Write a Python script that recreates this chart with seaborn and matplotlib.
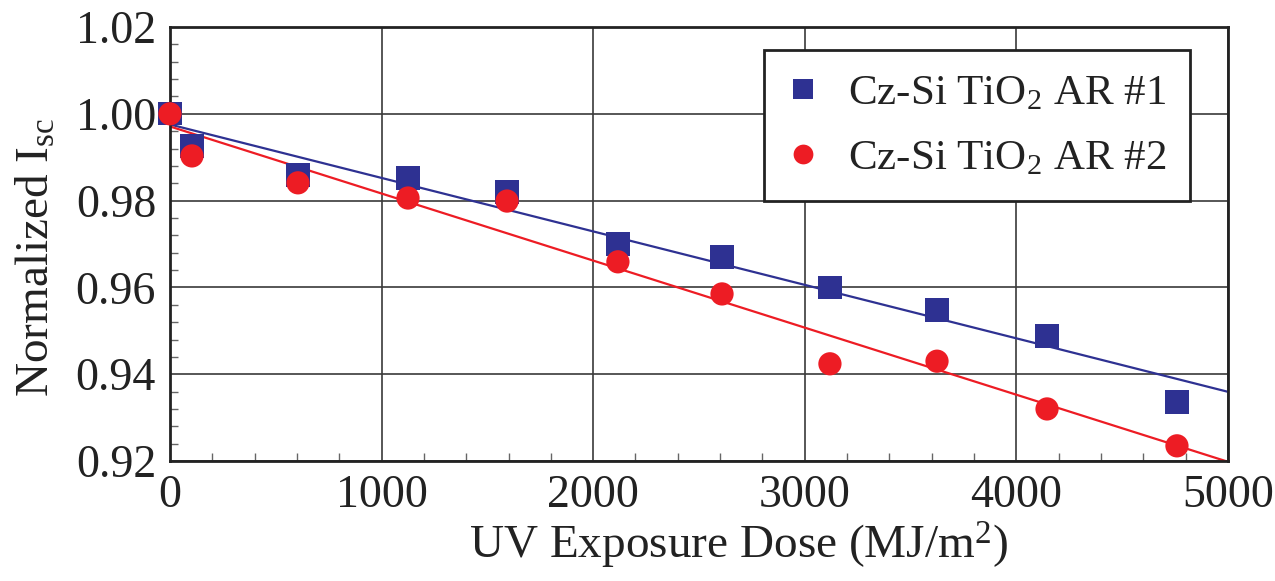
"""
Normalized Isc versus UV exposure dose for two Cz-Si TiO2 AR cells
"""

import numpy as np
import pandas as pd
import matplotlib
matplotlib.use('Agg')
import matplotlib.pyplot as plt
from matplotlib.ticker import MultipleLocator
import seaborn as sns

dose = [0, 104, 605, 1125, 1593, 2117, 2609, 3119, 3625, 4145, 4759]
isc_ar1 = [1.000, 0.9926, 0.9859, 0.9852, 0.9820, 0.9700, 0.9670,
           0.9599, 0.9548, 0.9488, 0.9336]
isc_ar2 = [1.000, 0.9903, 0.9841, 0.9806, 0.9799, 0.9659, 0.9585,
           0.9424, 0.9430, 0.9320, 0.9235]
series_names = ['Cz-Si TiO$_2$ AR #1', 'Cz-Si TiO$_2$ AR #2']
series_colors = ['#2e3192', '#ed1c24']

sns.set_style('ticks')
plt.rcParams['font.family'] = ['Liberation Serif', 'DejaVu Serif']
plt.rcParams['mathtext.fontset'] = 'custom'
plt.rcParams['mathtext.rm'] = 'Liberation Serif'
plt.rcParams['mathtext.it'] = 'Liberation Serif:italic'

df = pd.DataFrame({
    'dose': dose * 2,
    'isc': isc_ar1 + isc_ar2,
    'series': [series_names[0]] * len(dose) + [series_names[1]] * len(dose),
})

fig = plt.figure(figsize=(12.75, 5.81), dpi=100, facecolor='w')
ax = fig.add_axes([0.1333, 0.2065, 0.8298, 0.747])
ax.set_xlim(0, 5000)
ax.set_ylim(0.92, 1.02)

# least squares lines across the whole axis
for name, color in zip(series_names, series_colors):
    sub = df[df['series'] == name]
    sns.regplot(data=sub, x='dose', y='isc', ax=ax, scatter=False,
                ci=None, truncate=False, color=color,
                line_kws={'lw': 1.6, 'zorder': 2})

sns.scatterplot(data=df, x='dose', y='isc', hue='series', style='series',
                palette=series_colors, markers=['s', 'o'], s=280,
                edgecolor='none', ax=ax, zorder=3, clip_on=False)

ax.set_xlim(0, 5000)
ax.set_ylim(0.92, 1.02)
ax.xaxis.set_major_locator(MultipleLocator(1000))
ax.xaxis.set_minor_locator(MultipleLocator(200))
ax.yaxis.set_major_locator(MultipleLocator(0.02))
ax.yaxis.set_minor_locator(MultipleLocator(0.004))
ax.yaxis.set_major_formatter(matplotlib.ticker.FormatStrFormatter('%.2f'))
ax.grid(which='major', color='#3a3a3a', lw=1.2)
ax.tick_params(which='both', direction='in', labelsize=33, pad=10,
               labelcolor='#222222')
ax.tick_params(which='major', length=0)
ax.tick_params(which='minor', length=6, width=1, color='#666666')
for sp in ax.spines.values():
    sp.set_linewidth(2)
    sp.set_color('#222222')

ax.set_xlabel('UV Exposure Dose (MJ/m$^2$)', fontsize=34, color='#222222')
ax.set_ylabel('Normalized I$_\\mathrm{sc}$', fontsize=34, color='#222222')
ax.xaxis.set_label_coords(0.537, -0.135)
ax.yaxis.set_label_coords(-0.105, 0.47)

handles, labels = ax.get_legend_handles_labels()
leg = ax.legend(handles, labels, loc='upper right',
                bbox_to_anchor=(0.964, 0.947), borderaxespad=0,
                fontsize=31, frameon=True, fancybox=False,
                edgecolor='#222222', framealpha=1,
                handlelength=0.7, handletextpad=0.7, labelspacing=0.6,
                borderpad=0.55, markerscale=0.85)
leg.get_frame().set_linewidth(2)
for t in leg.get_texts():
    t.set_color('#222222')

fig.savefig('out.png', dpi=100)
